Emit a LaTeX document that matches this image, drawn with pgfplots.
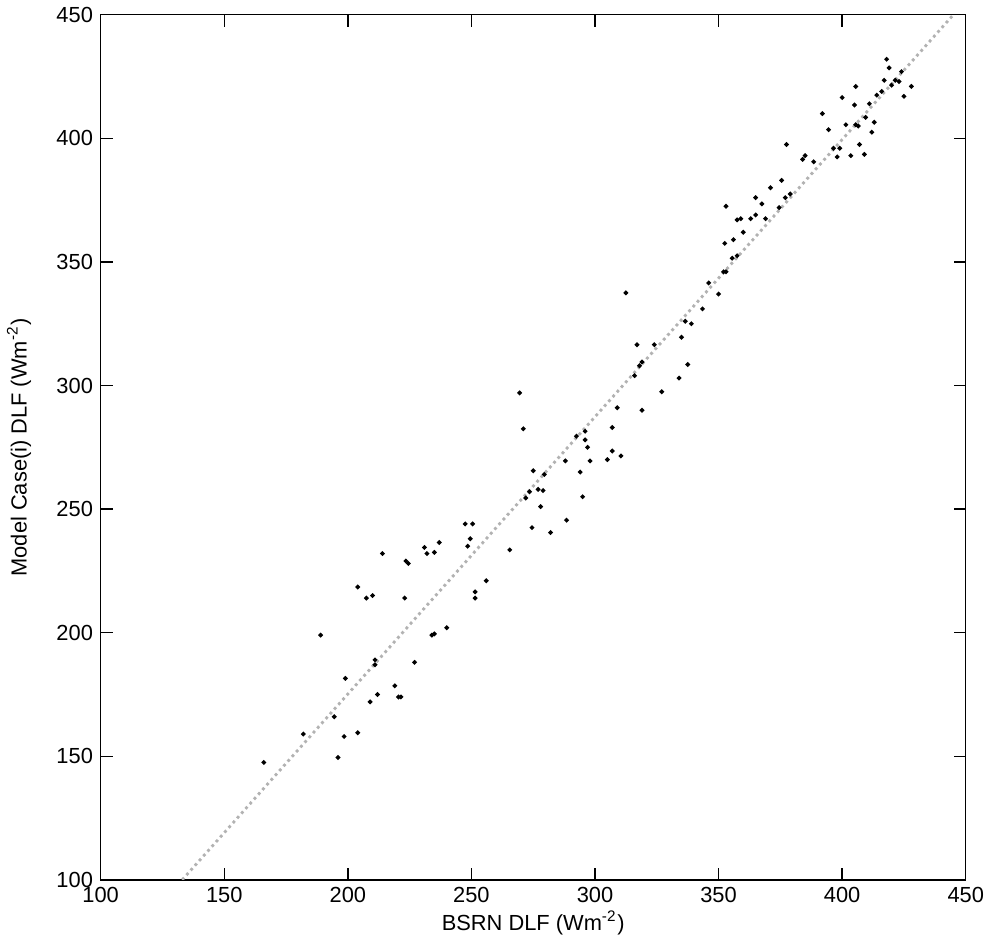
\documentclass[border=0pt]{standalone}
\usepackage{pgfplots}
\pgfplotsset{compat=1.18}
\usepackage{fontspec}
\setmainfont{Liberation Sans}
\begin{document}
\fontsize{6}{7}\selectfont
\begin{tikzpicture}
\begin{axis}[scale only axis, width=8.63cm, height=8.63cm,
  xmin=100, xmax=450, ymin=100, ymax=450,
  xtick={100,150,...,450}, ytick={100,150,...,450},
  tick align=inside, tick style={black, thin}, major tick length=0.12cm,
  /pgf/number format/assume math mode=true,
  ticklabel style={font=\fontsize{6.2}{7}\selectfont},
  label style={font=\fontsize{6.2}{7}\selectfont},
  xlabel={BSRN DLF (Wm\textsuperscript{-2})}, ylabel={Model Case(i) DLF (Wm\textsuperscript{-2})},
  xlabel style={yshift=2pt}, ylabel style={yshift=3pt},
  axis line style={thin}, clip=true]
\addplot[gray!60, densely dotted, thick] coordinates {(133,100) (445,450)};
\addplot[only marks, mark=*, mark size=0.45pt, black] coordinates {
(166,147.5)(182,159)(189,199)(194.5,166)(196,149.5)(198.5,158)(199,181.5)(204,159.5)(204,218.5)(207.5,214)(210,215)(209,172)(211,187)(211,189)(212,175)(214,232)(219,178.5)(220.5,174)(221.5,174)(223,214)(223.5,229)(224.5,228)(227,188)(231,234.5)(232,232)(234,199)(235,199.5)(235,232.5)(237,236.5)(240,202)(247.5,244)(248.5,235)(250.5,244)(249.5,238)(251.5,216.5)(251.5,214)(256,221)(265.5,233.5)(269.5,297)(271,282.5)(272,254.5)(273.5,257)(274.5,242.5)(275,265.5)(277,258)(278,251)(279,257.5)(279.5,264)(282,240.5)(288.5,245.5)(288,269.5)(292.5,279.5)(294,265)(295,255)(296,278)(296,281.5)(297,275)(298,269.5)(305,270)(307,273.5)(307,283)(309,291)(310.5,271.5)(312.5,337.5)(316,304)(317,316.5)(318,308)(319,309.5)(319,290)(324,316.5)(327,297.5)(334,303)(335,319.5)(336.5,326)(337.5,308.5)(339,325)(343.5,331)(346,341.5)(350,337)(352,346)(353,346)(352.5,357.5)(353,372.5)(355.5,351.5)(356,359)(357.5,352.5)(357.5,367)(359,367.5)(360,362)(363,367.5)(365,376)(365,369)(367.5,373.5)(369,367.5)(371,380)(374.5,372)(375.5,383)(377.5,397.5)(379,377.5)(377,376)(384,391.5)(385,393)(388.5,390.5)(392,410)(394.5,403.5)(396.5,396)(398,392.5)(399,396)(400,416.5)(401.5,405.5)(403.5,393)(405,413.5)(405.5,421)(405.5,405.5)(407,397.5)(406.5,405)(409,393.5)(409.5,408.5)(411,414)(412,402.5)(413,406.5)(414,417.5)(416,419)(417,423.5)(418,432)(419,428.5)(420,421.5)(421.5,423.5)(423,423)(424,427)(425,417)(428,421)
};
\end{axis}
\end{tikzpicture}
\end{document}
